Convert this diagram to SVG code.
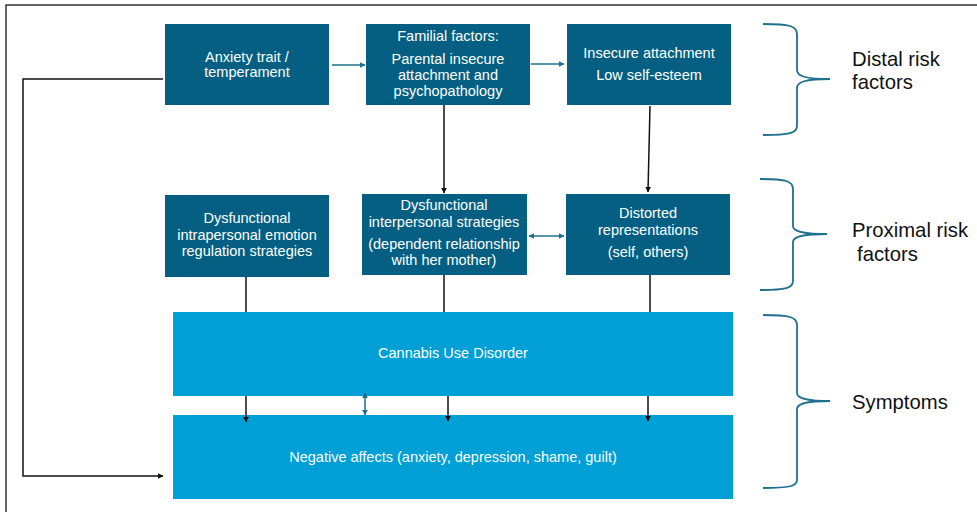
<svg xmlns="http://www.w3.org/2000/svg" width="977" height="512" viewBox="0 0 977 512">
<style>
.dark{fill:#045F82;}
.light{fill:#00A0D6;}
.t{font-family:"Liberation Sans",Arial,sans-serif;font-size:14.5px;fill:#ffffff;text-anchor:middle;}
.lbl{font-family:"Liberation Sans",Arial,sans-serif;font-size:20.3px;fill:#111111;}
.blk{stroke:#111111;stroke-width:1.5;fill:none;}
.teal{stroke:#1F6F8F;stroke-width:1.5;fill:none;}
.brace{stroke:#1F6F8F;stroke-width:1.8;fill:none;}
</style>
<defs>
<marker id="ab" viewBox="0 0 10 10" refX="9" refY="5" markerWidth="6" markerHeight="6" orient="auto-start-reverse" markerUnits="userSpaceOnUse"><path d="M0,0 L10,5 L0,10 z" fill="#111111"/></marker>
<marker id="at" viewBox="0 0 10 10" refX="9" refY="5" markerWidth="6" markerHeight="6" orient="auto-start-reverse" markerUnits="userSpaceOnUse"><path d="M0,0 L10,5 L0,10 z" fill="#1F6F8F"/></marker>
</defs>
<rect x="0" y="0" width="977" height="512" fill="#ffffff"/>
<rect x="6" y="5" width="980" height="520" fill="none" stroke="#111111" stroke-width="1.3"/>

<g id="anxiety"><rect class="dark" x="165" y="24" width="164" height="81"/>
<text class="t" x="247" y="62">Anxiety trait /</text><text class="t" x="247" y="77">temperament</text></g>
<g id="familial"><rect class="dark" x="366" y="24" width="164" height="81"/>
<text class="t" x="448" y="41">Familial factors:</text><text class="t" x="448" y="64">Parental insecure</text><text class="t" x="448" y="80">attachment  and</text><text class="t" x="448" y="96">psychopathology</text></g>
<g id="insecure"><rect class="dark" x="567" y="24" width="164" height="81"/>
<text class="t" x="649" y="58">Insecure attachment</text><text class="t" x="649" y="80">Low self-esteem</text></g>
<g id="intrapersonal"><rect class="dark" x="165" y="195" width="164" height="82"/>
<text class="t" x="247" y="223">Dysfunctional</text><text class="t" x="247" y="240">intrapersonal emotion</text><text class="t" x="247" y="256">regulation strategies</text></g>
<g id="interpersonal"><rect class="dark" x="362" y="194" width="165" height="81"/>
<text class="t" x="444" y="210">Dysfunctional</text><text class="t" x="444" y="227">interpersonal strategies</text><text class="t" x="444" y="249">(dependent relationship</text><text class="t" x="444" y="265">with her mother)</text></g>
<g id="distorted"><rect class="dark" x="566" y="194" width="164" height="81"/>
<text class="t" x="648" y="218">Distorted</text><text class="t" x="648" y="235">representations</text><text class="t" x="648" y="257">(self, others)</text></g>
<g id="cannabis"><rect class="light" x="173" y="312" width="560" height="84"/>
<text class="t" x="453" y="358">Cannabis Use Disorder</text></g>
<g id="negative"><rect class="light" x="173" y="415" width="560" height="84"/>
<text class="t" x="453" y="462">Negative affects (anxiety, depression, shame, guilt)</text></g>

<g id="connectors">
<line class="teal" x1="332" y1="65" x2="365" y2="65" marker-end="url(#at)"/>
<line class="teal" x1="531" y1="64" x2="564" y2="64" marker-end="url(#at)"/>
<line class="blk" x1="444" y1="105" x2="444" y2="193" marker-end="url(#ab)"/>
<line class="blk" x1="650" y1="106" x2="648" y2="192" marker-end="url(#ab)"/>
<line class="teal" x1="529" y1="236" x2="564" y2="236" marker-start="url(#at)" marker-end="url(#at)"/>
<line class="blk" x1="246" y1="277" x2="246" y2="312"/>
<line class="blk" x1="444" y1="275" x2="444" y2="312"/>
<line class="blk" x1="650" y1="275" x2="650" y2="312"/>
<line class="blk" x1="246" y1="396" x2="246" y2="422" marker-end="url(#ab)"/>
<line class="blk" x1="448" y1="396" x2="448" y2="421" marker-end="url(#ab)"/>
<line class="blk" x1="648" y1="396" x2="648" y2="421" marker-end="url(#ab)"/>
<line class="teal" x1="365" y1="393" x2="365" y2="415" marker-start="url(#at)" marker-end="url(#at)"/>
<polyline class="blk" points="163,79 23,79 23,476 163,476" marker-end="url(#ab)"/>
</g>

<g id="braces">
<path class="brace" d="M763,24 C790,24 797,26 797,34 L797,70 C797,76 805,79 830,79 C805,79 797,82 797,88 L797,126 C797,133 790,135 763,135"/>
<path class="brace" d="M760,179 C786,179 793,181 793,189 L793,226 C793,231 801,234 827,234 C801,234 793,237 793,242 L793,281 C793,288 786,290 760,290"/>
<path class="brace" d="M763,315 C790,315 797,317 797,325 L797,393 C797,398 805,401 830,401 C805,401 797,404 797,409 L797,480 C797,486 790,488 763,488"/>
</g>

<g id="labels">
<text class="lbl" x="852" y="66">Distal risk</text>
<text class="lbl" x="852" y="89">factors</text>
<text class="lbl" x="852" y="237">Proximal risk</text>
<text class="lbl" x="857" y="261">factors</text>
<text class="lbl" x="852" y="409">Symptoms</text>
</g>
</svg>
